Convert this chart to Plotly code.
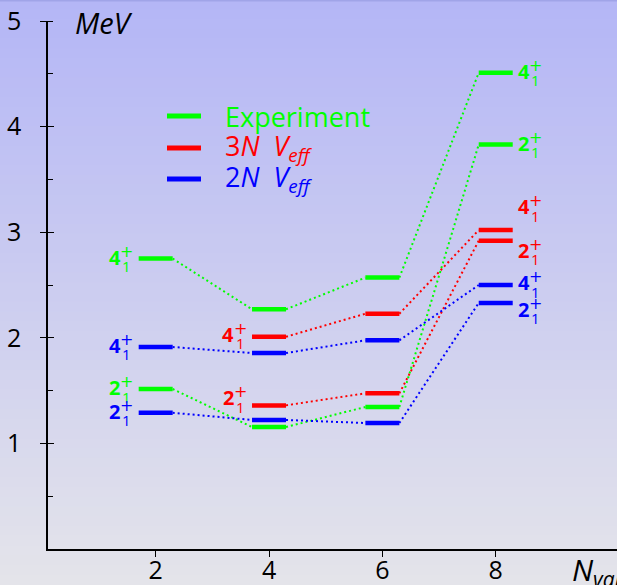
import plotly.graph_objects as go

# ---- data ----
n_val = [2, 4, 6, 8]
exp_2 = [1.515, 1.155, 1.345, 3.83]
exp_4 = [2.75, 2.27, 2.57, 4.51]
v3n_2 = [None, 1.36, 1.474, 2.92]
v3n_4 = [None, 2.01, 2.228, 3.02]
v2n_2 = [1.29, 1.222, 1.193, 2.33]
v2n_4 = [1.913, 1.856, 1.976, 2.50]
y_ticks = [1, 2, 3, 4, 5]
x_ticks = [2, 4, 6, 8]

GREEN, RED, BLUE = "#00ff00", "#ff0000", "#0000ff"
HALF = 0.3
FONT = "Open Sans"

W, H = 617, 585
ML, MR, MT, MB = 48, 0, 21, 36
PW, PH = W - ML - MR, H - MT - MB


def px(x):
    return (x - ML) / PW


def py(y):
    return (H - MB - y) / PH


fig = go.Figure()

series = [
    ("Experiment", GREEN, [exp_2, exp_4]),
    ("3N V_eff", RED, [v3n_2, v3n_4]),
    ("2N V_eff", BLUE, [v2n_2, v2n_4]),
]

# dotted connectors
for name, col, levels in series:
    for lv in levels:
        xs, ys = [], []
        pts = [(n, v) for n, v in zip(n_val, lv) if v is not None]
        for (n1, v1), (n2, v2) in zip(pts[:-1], pts[1:]):
            xs += [n1 + HALF, n2 - HALF, None]
            ys += [v1, v2, None]
        fig.add_trace(go.Scatter(x=xs, y=ys, mode="lines", showlegend=False,
                                 line=dict(color=col, width=2, dash="2px,3px"),
                                 hoverinfo="skip"))

# level bars
for name, col, levels in series:
    xs, ys = [], []
    for lv in levels:
        for n, v in zip(n_val, lv):
            if v is None:
                continue
            xs += [n - HALF, n + HALF, None]
            ys += [v, v, None]
    fig.add_trace(go.Scatter(x=xs, y=ys, mode="lines", name=name, showlegend=False,
                             line=dict(color=col, width=4.5)))

# invisible trace for overlay axis (major ticks crossing inside)
fig.add_trace(go.Scatter(x=[2], y=[1], yaxis="y2", mode="markers",
                         marker=dict(opacity=0), showlegend=False, hoverinfo="skip"))

annotations = []


def level_label(spin, col, x, y, side, yshift=0):
    # side: 'left' -> label left of bar start; 'right' -> right of bar end
    if side == "left":
        xd = x - HALF
        dsh, ssh = -24, -12
    else:
        xd = x + HALF
        dsh, ssh = 11, 23
    annotations.append(dict(x=xd, y=y, xref="x", yref="y", text="<b>%s</b>" % spin,
                            showarrow=False, xshift=dsh, yshift=yshift + 1.5,
                            font=dict(family=FONT, size=20, color=col),
                            xanchor="center", yanchor="middle"))
    annotations.append(dict(x=xd, y=y, xref="x", yref="y", text="+",
                            showarrow=False, xshift=ssh, yshift=yshift + 7.5,
                            font=dict(family="DejaVu Sans", size=16, color=col),
                            xanchor="center", yanchor="middle"))
    annotations.append(dict(x=xd, y=y, xref="x", yref="y", text="1",
                            showarrow=False, xshift=ssh, yshift=yshift - 7.5,
                            font=dict(family=FONT, size=15, color=col),
                            xanchor="center", yanchor="middle"))


# left labels at N=2
level_label("4", GREEN, n_val[0], exp_4[0], "left")
level_label("2", GREEN, n_val[0], exp_2[0], "left")
level_label("4", BLUE, n_val[0], v2n_4[0], "left")
level_label("2", BLUE, n_val[0], v2n_2[0], "left")
# red labels at N=4
level_label("4", RED, n_val[1], v3n_4[1], "left", yshift=1)
level_label("2", RED, n_val[1], v3n_2[1], "left", yshift=6)
# right labels at N=8
level_label("4", GREEN, n_val[3], exp_4[3], "right")
level_label("2", GREEN, n_val[3], exp_2[3], "right")
level_label("4", RED, n_val[3], v3n_4[3], "right", yshift=22)
level_label("2", RED, n_val[3], v3n_2[3], "right", yshift=-11)
level_label("4", BLUE, n_val[3], v2n_4[3], "right", yshift=1)
level_label("2", BLUE, n_val[3], v2n_2[3], "right", yshift=-8)

# axis titles
annotations.append(dict(x=px(73), y=py(22), xref="paper", yref="paper",
                        text="<i>MeV</i>", showarrow=False, xanchor="left", yanchor="middle",
                        font=dict(family=FONT, size=29, color="black")))
annotations.append(dict(x=px(570), y=py(571), xref="paper", yref="paper",
                        text="<i>N</i><sub><i>val</i></sub>", showarrow=False,
                        xanchor="left", yanchor="middle",
                        font=dict(family=FONT, size=30, color="black")))

# custom legend
shapes = []
legend_items = [
    ("Experiment", GREEN, 116),
    ("3<i>N</i>  <i>V</i><sub><i>eff</i></sub>", RED, 148),
    ("2<i>N</i>  <i>V</i><sub><i>eff</i></sub>", BLUE, 179),
]
for txt, col, ypx in legend_items:
    shapes.append(dict(type="line", xref="paper", yref="paper", x0=px(167), x1=px(201),
                       y0=py(ypx), y1=py(ypx), line=dict(color=col, width=5)))
    annotations.append(dict(x=px(223), y=py(ypx), xref="paper", yref="paper", text=txt,
                            showarrow=False, xanchor="left", yanchor="middle",
                            font=dict(family=FONT, size=27, color=col)))

# background gradient
top = (180, 182, 246)
bot = (228, 228, 234)
NS = 60
for i in range(NS):
    t = i / (NS - 1)
    c = tuple(round(top[k] + (bot[k] - top[k]) * t) for k in range(3))
    y1 = H * i / NS
    y0 = H * (i + 1) / NS
    shapes.append(dict(type="rect", xref="paper", yref="paper", layer="below",
                       x0=px(0), x1=px(W), y0=py(y0 + 0.5), y1=py(y1 - 0.5),
                       line=dict(width=0), fillcolor="rgb(%d,%d,%d)" % c))
shapes.append(dict(type="line", xref="paper", yref="paper", layer="below",
                   x0=px(0), x1=px(W), y0=py(0.5), y1=py(0.5),
                   line=dict(color="rgb(160,164,232)", width=2)))

axis_common = dict(showgrid=False, zeroline=False, showline=True, linecolor="black",
                   linewidth=1.5, tickcolor="black", tickwidth=1.3, automargin=False,
                   tickfont=dict(family=FONT, size=25, color="black"))

fig.update_layout(
    width=W, height=H,
    margin=dict(l=ML, r=MR, t=MT, b=MB, autoexpand=False),
    paper_bgcolor="rgb(205,206,240)",
    plot_bgcolor="rgba(0,0,0,0)",
    showlegend=False,
    xaxis=dict(range=[0.1, 10.14], tickvals=x_ticks, ticks="outside", ticklen=6,
               ticklabelstandoff=-8, **axis_common),
    yaxis=dict(range=[0, 5], tickvals=y_ticks, ticks="outside", ticklen=6,
               ticklabelstandoff=14,
               minor=dict(dtick=0.5, ticks="inside", ticklen=5, tickcolor="black",
                          tickwidth=1.2),
               **axis_common),
    yaxis2=dict(range=[0, 5], overlaying="y", tickvals=y_ticks, ticks="inside", ticklen=6,
                showticklabels=False, showline=False, showgrid=False, zeroline=False,
                tickcolor="black", tickwidth=1.3, automargin=False),
    annotations=annotations,
    shapes=shapes,
)

fig.write_html("out.html")
